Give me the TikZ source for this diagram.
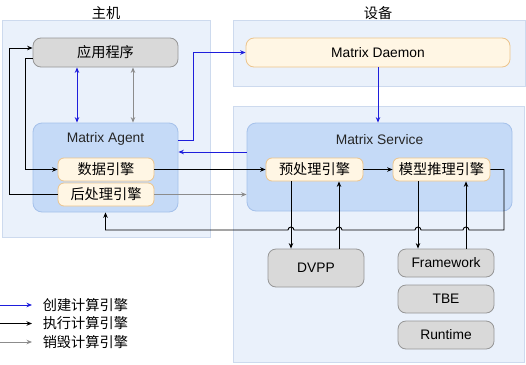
\documentclass[tikz,border=0pt]{standalone}
\usepackage{fontspec}
\setmainfont{Liberation Sans}
\newfontfamily\cjk{Noto Sans CJK SC}
\usetikzlibrary{arrows.meta, positioning}
\definecolor{panelfill}{RGB}{234,241,251}
\definecolor{paneldraw}{RGB}{205,218,238}
\definecolor{svcfill}{RGB}{197,218,247}
\definecolor{svcdraw}{RGB}{165,193,234}
\definecolor{engfill}{RGB}{255,246,228}
\definecolor{engdraw}{RGB}{236,196,140}
\definecolor{grayfill}{RGB}{217,217,217}
\definecolor{graydraw}{RGB}{150,150,150}
\definecolor{createblue}{RGB}{30,30,220}
\definecolor{destroygray}{RGB}{140,140,140}

\begin{document}
\begin{tikzpicture}[x=1pt, y=-1pt, font=\fontsize{13.8}{16}\selectfont,
    >={Stealth[length=5.5pt,width=4.5pt]},
    panel/.style={draw=paneldraw, fill=panelfill, line width=1pt},
    svc/.style={draw=svcdraw, fill=svcfill, rounded corners=9pt, line width=0.8pt},
    engine/.style={draw=engdraw, fill=engfill, rounded corners=6pt, line width=0.8pt,
                   minimum width=96, minimum height=23, inner sep=0pt},
    graybox/.style={draw=graydraw, fill=grayfill, rounded corners=8pt, line width=0.8pt,
                    minimum width=96, minimum height=28, inner sep=0pt},
    cn/.style={font=\fontsize{14.2}{16}\selectfont\cjk},
    create/.style={createblue, line width=1pt},
    exec/.style={black, line width=0.9pt},
    destroy/.style={destroygray, line width=0.9pt}]
  \useasboundingbox (0,0) rectangle (526,364);

  % host side
  \node[cn] (hosttitle) at (106,13) {主机};
  \node[panel, minimum width=208, minimum height=217] (host) at (106,128.5) {};
  \node[graybox, cn, minimum width=145, minimum height=29] (app) at (105.5,52.5) {应用程序};
  \node[svc, minimum width=145, minimum height=89] (agent) at (105.5,167.5) {};
  \node[text=black!85] (agentlabel) at (105.5,139) {Matrix Agent};
  \node[engine, cn] (data) at (106,169.5) {数据引擎};
  \node[engine, cn] (post) at (106,194.5) {后处理引擎};

  % device side
  \node[cn] (devtitle) at (378,13) {设备};
  \node[panel, minimum width=292, minimum height=66] (devtop) at (379,53) {};
  \node[panel, minimum width=291, minimum height=256] (devbot) at (378.5,234) {};
  \node[engine, minimum width=264, minimum height=29, rounded corners=8pt] (daemon) at (378,52.5) {Matrix Daemon};
  \node[svc, minimum width=265, minimum height=88] (service) at (379.5,167) {};
  \node[text=black!85] (servicelabel) at (379.5,140) {Matrix Service};
  \node[engine, cn, minimum width=97] (pre) at (314.5,169.5) {预处理引擎};
  \node[engine, cn, minimum width=97] (model) at (441.5,169.5) {模型推理引擎};
  \node[graybox, minimum height=38] (dvpp) at (316,268) {DVPP};
  \node[graybox] (fw) at (446,263) {Framework};
  \node[graybox] (tbe) at (446,299) {TBE};
  \node[graybox] (rt) at (446,335) {Runtime};

  % create
  \draw[create, <->] ([xshift=-28.5]app.south) -- ([xshift=-28.5]agent.north);
  \draw[create, ->] ([yshift=27.5]agent.east) -- ++(15,0) |- (daemon.west);
  \draw[create, ->] (daemon.south) -- (daemon.south |- service.north);
  \draw[create, ->] ([yshift=15]service.west) -- ([yshift=15.5]agent.east);

  % destroy
  \draw[destroy, <->] ([xshift=27.5]app.south) -- ([xshift=27.5]agent.north);
  \draw[destroy, ->] (post.east) -- (post.east -| service.west);

  % execute
  \draw[exec, ->] ([yshift=-5.5]app.west) -- ++(-7,0) |- (data.west);
  \draw[exec, ->] (data.east) -- (pre.west);
  \draw[exec, ->] (pre.east) -- (model.west);
  \draw[exec, ->] ([xshift=-23.5]pre.south) -- ([xshift=-23.5]pre.south |- dvpp.north);
  \draw[exec, ->] ([xshift=24.5]pre.south |- dvpp.north) -- ([xshift=24.5]pre.south);
  \draw[exec, ->] ([xshift=-23.5]model.south) -- ([xshift=-23.5]model.south |- fw.north);
  \draw[exec, ->] ([xshift=24.5]model.south |- fw.north) -- ([xshift=24.5]model.south);
  \coordinate (loop) at (504,230);
  \draw[exec, ->] (model.east) -| (loop) -- ++(-35,0)
      arc[start angle=0, end angle=180, radius=3pt] -- ++(-42,0)
      arc[start angle=0, end angle=180, radius=3pt] -- ++(-73,0)
      arc[start angle=0, end angle=180, radius=3pt] -- ++(-42,0)
      arc[start angle=0, end angle=180, radius=3pt] -| (agent.south);
  \draw[exec, ->] (post.west) -- ++(-48,0) |- ([yshift=4.5]app.west);

  % legend
  \coordinate (lg1) at (0,305);
  \coordinate (lg2) at (0,323.5);
  \coordinate (lg3) at (0,342);
  \draw[create, ->] (lg1) -- ++(32,0) node[cn, right=7pt, text=black] (lgtext1) {创建计算引擎};
  \draw[exec, ->] (lg2) -- ++(32,0) node[cn, right=7pt, text=black] (lgtext2) {执行计算引擎};
  \draw[destroy, ->] (lg3) -- ++(32,0) node[cn, right=7pt, text=black] (lgtext3) {销毁计算引擎};
\end{tikzpicture}
\end{document}
